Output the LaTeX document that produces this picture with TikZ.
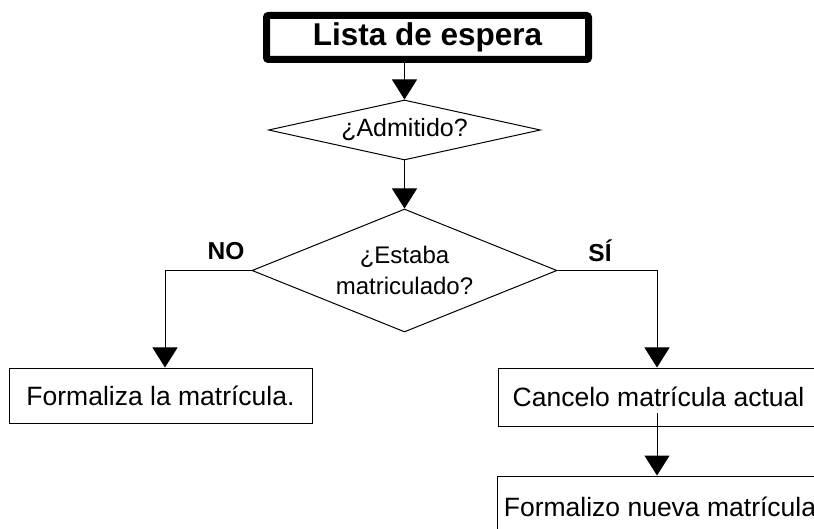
\documentclass[tikz,border=0pt]{standalone}
\usepackage{fontspec}
\setmainfont{Liberation Sans}
\usetikzlibrary{shapes.geometric,arrows.meta}
\begin{document}
\begin{tikzpicture}[x=1pt,y=-1pt,
  thin line/.style={line width=1pt},
  titlebox/.style={draw, line width=7pt, rounded corners=2pt, inner sep=0pt,
    font=\fontsize{31.5}{36}\selectfont\bfseries},
  dia/.style={draw, thin line, diamond, inner sep=0pt,
    font=\fontsize{25}{31}\selectfont, align=center},
  dia2/.style={dia, font=\fontsize{24}{31}\selectfont},
  procbox/.style={draw, thin line, rectangle, inner sep=0pt,
    font=\fontsize{26.5}{31}\selectfont},
  lbl/.style={font=\fontsize{24.5}{29}\selectfont\bfseries, inner sep=0pt},
  arr/.style={thin line, -{Triangle[width=25pt,length=20pt]}}
]
\useasboundingbox (0,0) rectangle (814,529);
\clip (0,0) rectangle (814,529);

\node[titlebox, minimum width=322pt, minimum height=44pt] (lista) at (427.5,37.5) {Lista de espera};
\node[dia, minimum width=272pt, minimum height=60pt, shape aspect=4.5] (d1) at (404.5,130) {¿Admitido?};
\node[dia2, minimum width=305pt, minimum height=123pt, shape aspect=2.5] (d2) at (404.5,270.5) {¿Estaba\\matriculado?};

\node[procbox, minimum width=303pt, minimum height=55pt] (formaliza) at (160.5,395.5) {Formaliza la matrícula.};
\node[procbox, minimum width=321pt, minimum height=58pt] (cancelo) at (658.5,397) {Cancelo matrícula actual};
\node[procbox, minimum width=325pt, minimum height=62pt] (formalizo) at (660,507) {Formalizo nueva matrícula};

\node[lbl] (no) at (226,251) {NO};
\node[lbl] (si) at (600,251) {SÍ};

\coordinate (lcol) at (165,0);
\coordinate (rcol) at (657,0);
\coordinate (cstart) at (657,413);

\draw[arr] (lista.south -| d1.north) -- (d1.north);
\draw[arr] (d1.south) -- (d2.north);
\draw[arr] (d2.west) -| (formaliza.north -| lcol);
\draw[arr] (d2.east) -| (cancelo.north -| rcol);
\draw[arr] (cstart) -- (formalizo.north -| cstart);
\end{tikzpicture}
\end{document}
